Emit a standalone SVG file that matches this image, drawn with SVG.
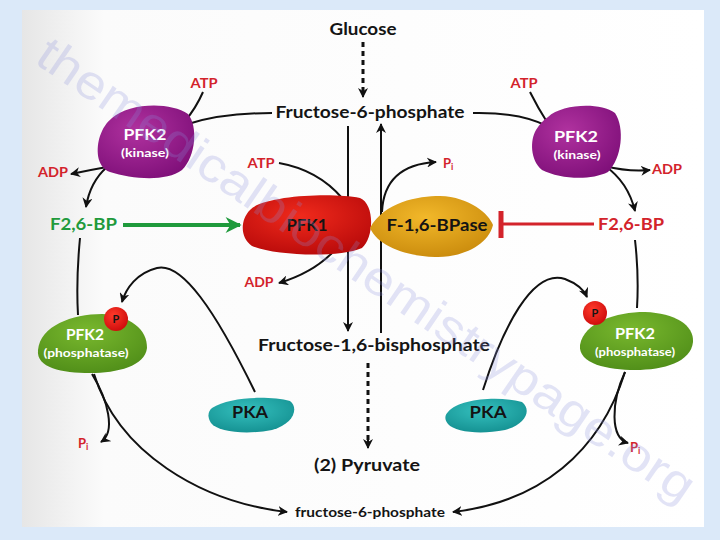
<svg xmlns="http://www.w3.org/2000/svg" width="720" height="540" viewBox="0 0 720 540">
<defs>
<style>
.t{font-family:Lato,"Open Sans","Liberation Sans",sans-serif;font-weight:700;fill:#141414}
.big{font-size:17px}
.mid{font-size:16px}
.sm{font-size:13px}
.red{fill:#d3232b}
.wht{fill:#ffffff}
.grn{fill:#1f9a3c}
.c{fill:none;stroke:#111;stroke-width:2}
.dash{fill:none;stroke:#111;stroke-width:3;stroke-dasharray:5 4}
.wm{font-family:"Liberation Sans",Arial,sans-serif;font-size:48px;fill:#8a8fdc;opacity:0.24}
</style>
<marker id="ah" viewBox="0 0 10 10" refX="9" refY="5" markerWidth="10" markerHeight="10" markerUnits="userSpaceOnUse" orient="auto">
<path d="M0,0 L10,5 L0,10 L3,5 Z" fill="#111"/>
</marker>
<marker id="ahg" viewBox="0 0 10 10" refX="9" refY="5" markerWidth="18" markerHeight="16" markerUnits="userSpaceOnUse" orient="auto">
<path d="M0,0 L10,5 L0,10 L3,5 Z" fill="#1f9a3c"/>
</marker>
<linearGradient id="panel" x1="0" y1="0" x2="1" y2="0">
<stop offset="0" stop-color="#e6e6e6"/>
<stop offset="0.12" stop-color="#fbfbfb"/>
<stop offset="1" stop-color="#ffffff"/>
</linearGradient>
<radialGradient id="gPurple" cx="0.4" cy="0.35" r="0.7">
<stop offset="0" stop-color="#b0329f"/>
<stop offset="1" stop-color="#80107a"/>
</radialGradient>
<radialGradient id="gGreen" cx="0.45" cy="0.3" r="0.75">
<stop offset="0" stop-color="#79b82e"/>
<stop offset="1" stop-color="#4f8d18"/>
</radialGradient>
<radialGradient id="gTeal" cx="0.45" cy="0.35" r="0.7">
<stop offset="0" stop-color="#35c0be"/>
<stop offset="1" stop-color="#138f90"/>
</radialGradient>
<radialGradient id="gRed" cx="0.45" cy="0.35" r="0.7">
<stop offset="0" stop-color="#f02a1c"/>
<stop offset="1" stop-color="#b80a0a"/>
</radialGradient>
<radialGradient id="gGold" cx="0.45" cy="0.35" r="0.7">
<stop offset="0" stop-color="#f2b82a"/>
<stop offset="1" stop-color="#c98a0c"/>
</radialGradient>
<radialGradient id="gP" cx="0.4" cy="0.35" r="0.7">
<stop offset="0" stop-color="#ff3a2a"/>
<stop offset="1" stop-color="#cc0b0b"/>
</radialGradient>
</defs>

<rect x="0" y="0" width="720" height="540" fill="#dbe9f9"/>
<rect x="22" y="10" width="682" height="517" fill="url(#panel)"/>

<g id="connectors">
<path class="dash" d="M363,42 L363,90" />
<path d="M363,90 L363,97" class="c" marker-end="url(#ah)"/>
<path class="c" d="M348,126 L348,331" marker-end="url(#ah)"/>
<path class="c" d="M381,333 L381,124" marker-end="url(#ah)"/>
<path class="dash" d="M368,363 L368,440"/>
<path d="M368,440 L368,448" class="c" marker-end="url(#ah)"/>
<path class="c" d="M279,163 Q318,170 342,198"/>
<path class="c" d="M332,253 Q312,273 279,283" marker-end="url(#ah)"/>
<path class="c" d="M382,212 Q384,165 436,162" marker-end="url(#ah)"/>
<path d="M123,225 L240,225" fill="none" stroke="#1f9a3c" stroke-width="4" marker-end="url(#ahg)"/>
<path d="M594,224 L503,224" fill="none" stroke="#d3232b" stroke-width="3"/>
<path d="M501,211 L501,238" fill="none" stroke="#d3232b" stroke-width="5"/>
<path class="c" d="M203,92 Q196,108 185,121"/>
<path class="c" d="M272,113 Q222,113 188,124"/>
<path class="c" d="M107,167 Q90,170 71,174" marker-end="url(#ah)"/>
<path class="c" d="M107,167 Q90,182 86,207" marker-end="url(#ah)"/>
<path class="c" d="M80,238 Q76,280 78,315"/>
<path class="c" d="M530,92 Q538,108 547,122"/>
<path class="c" d="M473,113 Q520,112 547,126"/>
<path class="c" d="M605,166 Q628,172 650,170" marker-end="url(#ah)"/>
<path class="c" d="M605,166 Q628,182 635,211" marker-end="url(#ah)"/>
<path class="c" d="M635,240 Q639,275 637,308"/>
<path class="c" d="M255,392 C215,310 182,262 157,268 C137,273 126,288 122,302" marker-end="url(#ah)"/>
<path class="c" d="M483,390 C502,330 532,268 565,279 C578,284 584,290 587,297" marker-end="url(#ah)"/>
<path class="c" d="M92,374 C108,400 116,432 101,442" marker-end="url(#ah)"/>
<path class="c" d="M94,374 C118,452 200,502 287,512" marker-end="url(#ah)"/>
<path class="c" d="M625,372 C611,402 610,438 628,443" marker-end="url(#ah)"/>
<path class="c" d="M625,372 C600,452 540,502 453,512" marker-end="url(#ah)"/>
</g>

<g id="glucose"><text class="t big" x="363" y="35" text-anchor="middle" textLength="67" lengthAdjust="spacingAndGlyphs">Glucose</text></g>
<g id="f6p"><text class="t big" x="370" y="118" text-anchor="middle" textLength="189" lengthAdjust="spacingAndGlyphs">Fructose-6-phosphate</text></g>
<g id="f16bp"><text class="t big" x="374" y="351" text-anchor="middle" textLength="232" lengthAdjust="spacingAndGlyphs">Fructose-1,6-bisphosphate</text></g>
<g id="pyruvate"><text class="t big" x="367" y="471" text-anchor="middle" textLength="106" lengthAdjust="spacingAndGlyphs">(2) Pyruvate</text></g>
<g id="f6p-bottom"><text class="t" font-size="14" x="370" y="517" text-anchor="middle" textLength="150" lengthAdjust="spacingAndGlyphs">fructose-6-phosphate</text></g>

<g id="atp-left"><text class="t sm red" x="204" y="88" text-anchor="middle" textLength="27" lengthAdjust="spacingAndGlyphs">ATP</text></g>
<g id="atp-right"><text class="t sm red" x="524" y="88" text-anchor="middle" textLength="27" lengthAdjust="spacingAndGlyphs">ATP</text></g>
<g id="atp-mid"><text class="t sm red" x="261" y="168" text-anchor="middle" textLength="27" lengthAdjust="spacingAndGlyphs">ATP</text></g>
<g id="adp-left"><text class="t sm red" x="53" y="177" text-anchor="middle" textLength="30" lengthAdjust="spacingAndGlyphs">ADP</text></g>
<g id="adp-right"><text class="t sm red" x="667" y="174" text-anchor="middle" textLength="30" lengthAdjust="spacingAndGlyphs">ADP</text></g>
<g id="adp-mid"><text class="t sm red" x="259" y="287" text-anchor="middle" textLength="29" lengthAdjust="spacingAndGlyphs">ADP</text></g>
<g id="pi-mid"><text class="t sm red" x="443" y="168">P<tspan font-size="9" dy="2">i</tspan></text></g>
<g id="pi-left"><text class="t sm red" x="78" y="448">P<tspan font-size="9" dy="2">i</tspan></text></g>
<g id="pi-right"><text class="t sm red" x="630" y="452">P<tspan font-size="9" dy="2">i</tspan></text></g>

<g id="f26bp-left"><text class="t big grn" x="50" y="230" textLength="67" lengthAdjust="spacingAndGlyphs">F2,6-BP</text></g>
<g id="f26bp-right"><text class="t big red" x="598" y="230" textLength="66" lengthAdjust="spacingAndGlyphs">F2,6-BP</text></g>

<g id="pfk1">
<path d="M250,210 C262,196 330,192 360,198 C375,204 374,238 362,248 C340,258 275,256 252,246 C240,238 240,220 250,210 Z" fill="url(#gRed)"/>
<text class="t big" x="307" y="231" text-anchor="middle" textLength="41" lengthAdjust="spacingAndGlyphs">PFK1</text>
</g>
<g id="fbpase">
<path d="M370,228 C384,202 418,196 440,196 C470,197 489,214 493,225 C488,246 460,258 435,257 C405,256 378,246 370,228 Z" fill="url(#gGold)"/>
<text class="t big" x="437" y="231" text-anchor="middle" textLength="101" lengthAdjust="spacingAndGlyphs">F-1,6-BPase</text>
</g>

<g id="pfk2-kinase-left">
<path d="M112,118 C128,103 170,101 188,114 C198,126 196,156 182,170 C166,182 132,179 110,172 C96,167 96,148 100,136 C103,128 106,123 112,118 Z" fill="url(#gPurple)"/>
<text class="t mid wht" x="145" y="140" text-anchor="middle" textLength="43" lengthAdjust="spacingAndGlyphs">PFK2</text>
<text class="t wht" font-size="12" x="145" y="157" text-anchor="middle" textLength="48" lengthAdjust="spacingAndGlyphs">(kinase)</text>
</g>
<g id="pfk2-kinase-right">
<path d="M548,117 C562,104 600,102 615,113 C625,128 622,158 608,172 C590,181 560,179 542,170 C530,160 530,140 536,130 C540,124 543,120 548,117 Z" fill="url(#gPurple)"/>
<text class="t mid wht" x="576" y="142" text-anchor="middle" textLength="44" lengthAdjust="spacingAndGlyphs">PFK2</text>
<text class="t wht" font-size="12" x="577" y="159" text-anchor="middle" textLength="47" lengthAdjust="spacingAndGlyphs">(kinase)</text>
</g>

<g id="pfk2-phosphatase-left">
<path d="M38,350 C40,326 72,314 102,314 C130,315 148,330 147,348 C145,366 118,373 90,373 C62,373 36,368 38,350 Z" fill="url(#gGreen)"/>
<text class="t mid wht" x="85" y="340" text-anchor="middle" textLength="38" lengthAdjust="spacingAndGlyphs">PFK2</text>
<text class="t wht" font-size="12" x="86" y="357" text-anchor="middle" textLength="85" lengthAdjust="spacingAndGlyphs">(phosphatase)</text>
<circle cx="116" cy="319" r="12" fill="url(#gP)"/>
<text class="t" font-size="11" x="116" y="323" text-anchor="middle">P</text>
</g>
<g id="pfk2-phosphatase-right">
<path d="M580,345 C584,322 616,312 645,312 C675,313 694,325 693,342 C691,362 664,370 635,370 C608,370 578,364 580,345 Z" fill="url(#gGreen)"/>
<text class="t mid wht" x="635" y="339" text-anchor="middle" textLength="40" lengthAdjust="spacingAndGlyphs">PFK2</text>
<text class="t wht" font-size="12" x="635" y="356" text-anchor="middle" textLength="80" lengthAdjust="spacingAndGlyphs">(phosphatase)</text>
<circle cx="595" cy="313" r="12" fill="url(#gP)"/>
<text class="t" font-size="11" x="595" y="317" text-anchor="middle">P</text>
</g>

<g id="pka-left">
<path d="M212,408 C230,396 270,396 290,401 C299,408 294,424 272,430 C246,435 218,432 211,423 C207,417 208,411 212,408 Z" fill="url(#gTeal)"/>
<text class="t big" x="250" y="418" text-anchor="middle" textLength="36" lengthAdjust="spacingAndGlyphs">PKA</text>
</g>
<g id="pka-right">
<path d="M448,412 C460,398 500,396 522,402 C532,410 526,424 505,430 C480,435 455,432 448,424 C444,419 445,415 448,412 Z" fill="url(#gTeal)"/>
<text class="t big" x="488" y="418" text-anchor="middle" textLength="37" lengthAdjust="spacingAndGlyphs">PKA</text>
</g>

<g id="watermark">
<text class="wm" x="0" y="0" transform="translate(33,62) rotate(34.3)" textLength="785" lengthAdjust="spacingAndGlyphs">themedicalbiochemistrypage.org</text>
</g>
</svg>
